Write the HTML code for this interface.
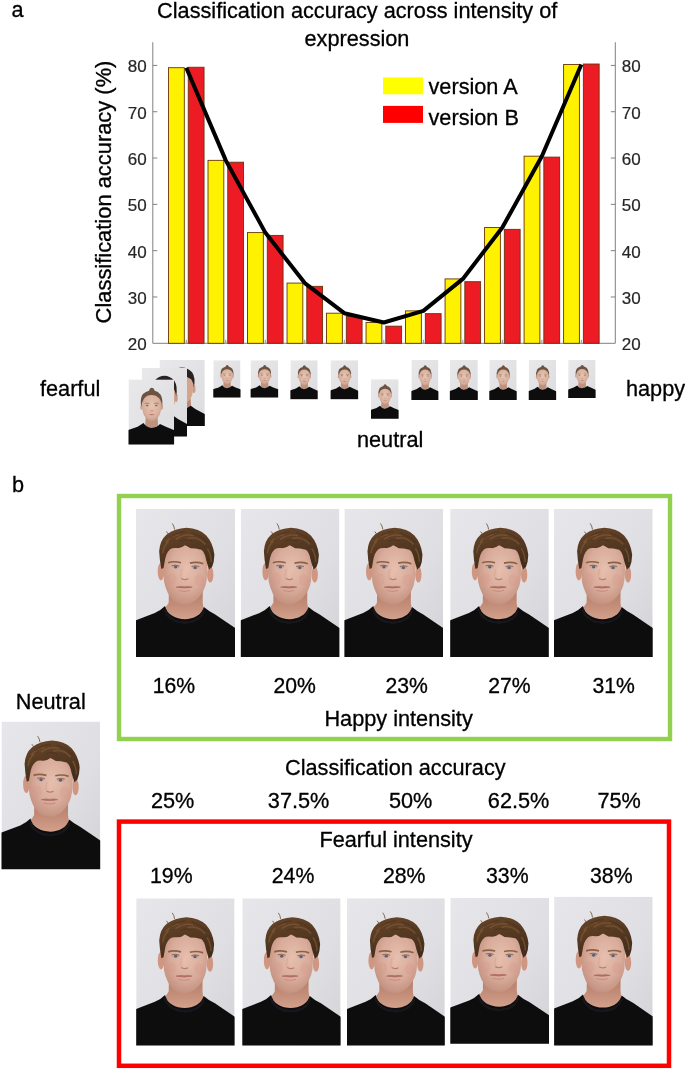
<!DOCTYPE html>
<html lang="en"><head><meta charset="utf-8"><title>Figure</title>
<style>
html,body{margin:0;padding:0;background:#fff}
svg{display:block}
text{font-family:"Liberation Sans",Arial,sans-serif;fill:#000;stroke:#000;stroke-width:0.3px}
.ax{fill:#262626;stroke:#262626;stroke-width:0.2px}
</style></head><body>
<svg width="685" height="1069" viewBox="0 0 685 1069">
<defs>
<linearGradient id="bgm" x1="0" y1="0" x2="1" y2="1"><stop offset="0" stop-color="#e7e7eb"/><stop offset="0.6" stop-color="#dfdfe3"/><stop offset="1" stop-color="#d3d3d7"/></linearGradient>
<linearGradient id="bgf" x1="0" y1="0" x2="1" y2="1"><stop offset="0" stop-color="#e9e9ec"/><stop offset="1" stop-color="#dcdcdf"/></linearGradient>
<radialGradient id="skin" cx="0.54" cy="0.42" r="0.64"><stop offset="0" stop-color="#e6bfae"/><stop offset="0.55" stop-color="#d9ac9b"/><stop offset="1" stop-color="#bf8b79"/></radialGradient>
<radialGradient id="skinf" cx="0.5" cy="0.45" r="0.6"><stop offset="0" stop-color="#e6c4b3"/><stop offset="0.7" stop-color="#d9b09d"/><stop offset="1" stop-color="#c19580"/></radialGradient>
<linearGradient id="hair" x1="0" y1="0" x2="0.3" y2="1"><stop offset="0" stop-color="#684629"/><stop offset="0.5" stop-color="#573a23"/><stop offset="1" stop-color="#432d1c"/></linearGradient>
<linearGradient id="neck" x1="0" y1="0" x2="0" y2="1"><stop offset="0" stop-color="#b27a66"/><stop offset="0.45" stop-color="#c08a75"/><stop offset="1" stop-color="#d6a590"/></linearGradient>
<filter id="soft" x="-5%" y="-5%" width="110%" height="110%"><feGaussianBlur stdDeviation="0.55"/></filter>
<filter id="soft2" x="-5%" y="-5%" width="110%" height="110%"><feGaussianBlur stdDeviation="1.1"/></filter>
<symbol id="pm" viewBox="0 0 100 150" preserveAspectRatio="none">
<rect width="100" height="150" fill="url(#bgm)"/>
<g filter="url(#soft)">
<path d="M33.3 78 L33 95 Q31 98.5 28.8 100.5 Q50 130 68.8 101.5 Q67.6 98.5 67.4 95 L67.4 78Z" fill="url(#neck)"/>
<path d="M-2 113.5 L19 105.5 Q25 103 29.3 98.5 C33 115.5 64 116.5 68.6 99.5 Q73 103.5 80 107 L102 122 V152 H-2Z" fill="#0e0e10"/>
<path d="M29.3 98.5 C33 115.5 64 116.5 68.6 99.5" fill="none" stroke="#17171a" stroke-width="2.4" transform="translate(0 3.4)"/>
<ellipse cx="25.2" cy="63.5" rx="3.3" ry="9" fill="#cf9682"/>
<ellipse cx="75" cy="66.5" rx="3.2" ry="8.4" fill="#cf9682"/>
<path d="M27 58 Q26 36 50 34 Q73 36 72.3 58 L71.3 72.5 Q69.8 84 60.8 92 Q50 100.6 38.2 93.6 Q30.8 86 28.3 73.5Z" fill="url(#skin)"/>
<path d="M25.6 61 Q23.8 52 23.4 43 Q24 32 31 26 Q39 20 51 19.3 Q64 20 71 27 Q78 35 79.2 46.5 Q79 54 76.8 59 L73.8 61.5 Q72 56 70.8 51.5 Q69.5 44 66 41.5 Q60 40 55 40 Q51 37.5 49.5 37 Q46 40 42 39.8 Q37 39 34.5 41 Q31 44 29.6 50 Q28.5 56 27.8 60Z" fill="url(#hair)"/>
<path d="M39 21 Q38.5 17 36.6 14.8 M33 26 L30.8 23" stroke="#6a4a2c" stroke-width="0.8" fill="none"/>
<path d="M30 34 Q36 27 44 26 M40 31 Q48 25 58 27 M52 30 Q62 27 70 36 M27 45 Q28 37 33 33 M72 40 Q76 46 76 54" stroke="#86603a" stroke-width="1.6" fill="none" opacity="0.55"/><path d="M34 30 Q40 24 50 23 M56 24 Q66 27 72 34 M45 33 Q50 30 57 33" stroke="#45301c" stroke-width="1.3" fill="none" opacity="0.5"/><ellipse cx="36" cy="71" rx="5" ry="6" fill="#d88f84" opacity="0.22"/><ellipse cx="64" cy="72" rx="5" ry="6" fill="#d88f84" opacity="0.22"/><path d="M32.5 54.6 Q38 52.6 45.5 54.6" stroke="#8a6248" stroke-width="1.7" fill="none"/>
<path d="M54.5 55 Q61.5 53.2 68 55.6" stroke="#8a6248" stroke-width="1.7" fill="none"/>
<ellipse cx="40" cy="59" rx="3.6" ry="1.5" fill="#c9a79c"/><ellipse cx="60" cy="59.6" rx="3.6" ry="1.5" fill="#c9a79c"/>
<ellipse cx="40.1" cy="59" rx="1.7" ry="1.5" fill="#58627a"/><ellipse cx="59.8" cy="59.6" rx="1.7" ry="1.5" fill="#58627a"/>
<path d="M36 57.6 Q40 56.2 44 58 M56 58.4 Q60 56.8 64 58.4" stroke="#7a5545" stroke-width="0.8" fill="none"/>
<path d="M45.6 70.6 Q49 72.6 52.8 70.8" stroke="#b67f6d" stroke-width="1.2" fill="none"/>
<path d="M46 61 Q44.8 66.5 45 69.6" stroke="#d1947f" stroke-width="1.5" fill="none" opacity="0.3"/><ellipse cx="49.5" cy="66" rx="2.2" ry="5" fill="#edc0ad" opacity="0.35"/>
<path d="M40.5 79.3 Q45 78 48.8 79 Q53 78 56.8 79.3 Q49 81.2 40.5 79.3Z" fill="#b8736a" stroke="#a96158" stroke-width="0.6"/>
<path d="M43 82.5 Q49 84.5 54.5 82.5" stroke="#c98e7c" stroke-width="1.2" fill="none"/>
</g>
</symbol>
<symbol id="pd" viewBox="0 0 100 150" preserveAspectRatio="none">
<rect width="100" height="150" fill="url(#bgf)"/>
<g filter="url(#soft2)">
<path d="M32 80 L30 108 Q50 122 70 108 L68 80Z" fill="#b98a74"/>
<path d="M-2 122 L22 112 L31 104 Q50 120 69 104 L80 112 L102 124 V152 H-2Z" fill="#0e0e10"/>
<ellipse cx="24" cy="66" rx="3.5" ry="9" fill="#c99b86"/><ellipse cx="76" cy="66" rx="3.5" ry="9" fill="#c99b86"/>
<path d="M26 58 Q25 34 50 32 Q75 34 74 58 L73 76 Q70 90 60 97 Q50 103 40 97 Q30 90 27 76Z" fill="#d3a48e"/>
<path d="M24 62 Q20 40 28 28 Q38 17 50 17 Q62 17 72 28 Q80 40 76 62 Q74 50 70 44 Q60 36 50 36 Q40 36 30 44 Q26 50 24 62Z" fill="#2a2320"/>
</g>
</symbol>
<symbol id="pf" viewBox="0 0 100 150" preserveAspectRatio="none">
<rect width="100" height="150" fill="url(#bgf)"/>
<g filter="url(#soft2)">
<path d="M38 84 L36.5 106 Q50 118 65 106 L63.5 84Z" fill="#bf927d"/>
<path d="M-2 117 L20 109 L33 100.5 Q38 110 50 112 Q63 110 69 102.5 L82 109 L102 118 V152 H-2Z" fill="#0e0e10"/>
<ellipse cx="28.5" cy="64" rx="2.6" ry="6.5" fill="#cfa08c"/><ellipse cx="73" cy="64" rx="2.6" ry="6.5" fill="#cfa08c"/>
<path d="M30 60 Q29 35 51 33 Q73 35 72 60 L71 72 Q68 86 59 93 Q51 98.5 43 93 Q33.5 86 31 72Z" fill="url(#skinf)"/>
<path d="M27.8 63 Q25 45 31 34.5 Q38 27 45 26 Q46 20 51 19.5 Q56 20 57.5 26 Q65 27.5 70.5 35.5 Q76 46 73.8 63 Q72.5 51 68 44 Q60 35.5 51 36 Q41 35.5 34 44 Q30 51 27.8 63Z" fill="#6c533f"/>
<path d="M35.5 55.5 Q40 53.8 46 55.6 M56 55.6 Q62 53.8 66.5 55.5" stroke="#8b6a55" stroke-width="1.6" fill="none"/>
<ellipse cx="41" cy="60" rx="3" ry="1.7" fill="#6b6a72"/><ellipse cx="61" cy="60" rx="3" ry="1.7" fill="#6b6a72"/>
<path d="M47.5 72 Q51 73.5 54.5 72" stroke="#ad7b6a" stroke-width="1.4" fill="none"/>
<path d="M44 81 Q51 79.5 58 81 Q51 84 44 81Z" fill="#b4665f"/>
</g>
</symbol>
</defs>

<rect width="685" height="1069" fill="#fff"/>
<path d="M152.8 42.24V343.3H615.3V42.24" fill="none" stroke="#808080" stroke-width="1"/>
<path d="M152.8 296.98h4.5M615.3 296.98h-4.5M152.8 250.67h4.5M615.3 250.67h-4.5M152.8 204.35h4.5M615.3 204.35h-4.5M152.8 158.03h4.5M615.3 158.03h-4.5M152.8 111.72h4.5M615.3 111.72h-4.5M152.8 65.40h4.5M615.3 65.40h-4.5" fill="none" stroke="#808080" stroke-width="1"/>
<path d="M186.28 343.3v-3.5M225.78 343.3v-3.5M265.29 343.3v-3.5M304.80 343.3v-3.5M344.31 343.3v-3.5M383.82 343.3v-3.5M423.33 343.3v-3.5M462.84 343.3v-3.5M502.35 343.3v-3.5M541.86 343.3v-3.5M581.37 343.3v-3.5" fill="none" stroke="#808080" stroke-width="0.9"/>
<g stroke="#6a3208" stroke-width="0.9">
<rect x="168.50" y="67.71" width="15.8" height="275.59" fill="#fff200"/>
<rect x="188.25" y="67.25" width="15.8" height="276.05" fill="#ed1c24"/>
<rect x="208.01" y="160.35" width="15.8" height="182.95" fill="#fff200"/>
<rect x="227.76" y="162.20" width="15.8" height="181.10" fill="#ed1c24"/>
<rect x="247.52" y="232.60" width="15.8" height="110.70" fill="#fff200"/>
<rect x="267.27" y="235.38" width="15.8" height="107.92" fill="#ed1c24"/>
<rect x="287.03" y="283.09" width="15.8" height="60.21" fill="#fff200"/>
<rect x="306.78" y="286.33" width="15.8" height="56.97" fill="#ed1c24"/>
<rect x="326.54" y="313.19" width="15.8" height="30.11" fill="#fff200"/>
<rect x="346.29" y="316.44" width="15.8" height="26.86" fill="#ed1c24"/>
<rect x="366.05" y="322.46" width="15.8" height="20.84" fill="#fff200"/>
<rect x="385.80" y="326.16" width="15.8" height="17.14" fill="#ed1c24"/>
<rect x="405.56" y="310.88" width="15.8" height="32.42" fill="#fff200"/>
<rect x="425.31" y="313.66" width="15.8" height="29.64" fill="#ed1c24"/>
<rect x="445.07" y="278.92" width="15.8" height="64.38" fill="#fff200"/>
<rect x="464.82" y="281.70" width="15.8" height="61.60" fill="#ed1c24"/>
<rect x="484.58" y="227.51" width="15.8" height="115.79" fill="#fff200"/>
<rect x="504.33" y="229.36" width="15.8" height="113.94" fill="#ed1c24"/>
<rect x="524.09" y="156.18" width="15.8" height="187.12" fill="#fff200"/>
<rect x="543.84" y="157.11" width="15.8" height="186.19" fill="#ed1c24"/>
<rect x="563.60" y="64.47" width="15.8" height="278.83" fill="#fff200"/>
<rect x="583.35" y="64.01" width="15.8" height="279.29" fill="#ed1c24"/>
</g>
<text class="ax" x="146.6" y="350.20" font-size="17" text-anchor="end">20</text>
<text class="ax" x="621.8" y="350.20" font-size="17">20</text>
<text class="ax" x="146.6" y="303.88" font-size="17" text-anchor="end">30</text>
<text class="ax" x="621.8" y="303.88" font-size="17">30</text>
<text class="ax" x="146.6" y="257.57" font-size="17" text-anchor="end">40</text>
<text class="ax" x="621.8" y="257.57" font-size="17">40</text>
<text class="ax" x="146.6" y="211.25" font-size="17" text-anchor="end">50</text>
<text class="ax" x="621.8" y="211.25" font-size="17">50</text>
<text class="ax" x="146.6" y="164.93" font-size="17" text-anchor="end">60</text>
<text class="ax" x="621.8" y="164.93" font-size="17">60</text>
<text class="ax" x="146.6" y="118.62" font-size="17" text-anchor="end">70</text>
<text class="ax" x="621.8" y="118.62" font-size="17">70</text>
<text class="ax" x="146.6" y="72.30" font-size="17" text-anchor="end">80</text>
<text class="ax" x="621.8" y="72.30" font-size="17">80</text>
<polyline points="186.28,67.71 225.78,160.35 265.29,232.60 304.80,283.09 344.31,313.19 383.82,322.46 423.33,310.88 462.84,278.92 502.35,227.51 541.86,156.18 581.37,64.47" fill="none" stroke="#000" stroke-width="4" stroke-linejoin="round"/>
<text x="357.2" y="17.5" font-size="21.7" text-anchor="middle">Classification accuracy across intensity of</text>
<text x="357" y="45.9" font-size="21.7" text-anchor="middle">expression</text>
<text x="11.6" y="17.2" font-size="21.7">a</text>
<text x="12" y="492" font-size="21.7">b</text>
<text transform="translate(110.9 192) rotate(-90)" font-size="21.9" text-anchor="middle">Classification accuracy (%)</text>
<rect x="383" y="77.3" width="40" height="17" fill="#ffff00"/>
<rect x="383" y="105.9" width="40" height="17" fill="#ff0000"/>
<text x="428.5" y="94.1" font-size="21.7">version A</text>
<text x="428.5" y="124.6" font-size="21.7">version B</text>
<text x="40" y="396" font-size="21.7">fearful</text>
<text x="626" y="396" font-size="21.7">happy</text>
<text x="357" y="446.8" font-size="21.7">neutral</text>
<use href="#pd" x="159.5" y="359.9" width="45.3" height="66"/>
<use href="#pd" x="141.8" y="368" width="45.2" height="68.4"/>
<use href="#pf" x="128.5" y="379.4" width="45.6" height="65.1"/>
<use href="#pf" x="213.3" y="360.2" width="27.19999999999999" height="37.400000000000034"/>
<use href="#pf" x="250.6" y="360.2" width="27.599999999999994" height="37.400000000000034"/>
<use href="#pf" x="290.4" y="360.2" width="27.30000000000001" height="39.0"/>
<use href="#pf" x="330.6" y="360.2" width="27.599999999999966" height="39.0"/>
<use href="#pf" x="371" y="379.2" width="27.600000000000023" height="39.60000000000002"/>
<use href="#pf" x="411.4" y="360" width="27.0" height="40"/>
<use href="#pf" x="449.8" y="360" width="28.0" height="40"/>
<use href="#pf" x="489.3" y="360" width="27.400000000000034" height="40"/>
<use href="#pf" x="528.7" y="360" width="27.5" height="40"/>
<use href="#pf" x="568.2" y="360" width="27.399999999999977" height="38"/>
<rect x="119" y="496" width="551" height="243" fill="none" stroke="#92d050" stroke-width="4.4"/>
<rect x="119" y="821.6" width="550" height="244.2" fill="none" stroke="#ff0000" stroke-width="4.5"/>
<use href="#pm" x="136" y="508.8" width="99" height="148.2"/>
<use href="#pm" x="240.8" y="508.8" width="98.59999999999997" height="148.2"/>
<use href="#pm" x="344.4" y="508.8" width="98.60000000000002" height="148.2"/>
<use href="#pm" x="450.2" y="508.8" width="98.59999999999997" height="148.2"/>
<use href="#pm" x="554" y="508.8" width="98.70000000000005" height="148.2"/>
<use href="#pm" x="136.2" y="898.3" width="98.4" height="147.20000000000005"/>
<use href="#pm" x="242.3" y="898.3" width="98.30000000000001" height="147.20000000000005"/>
<use href="#pm" x="347" y="898.2" width="97.80000000000001" height="147.29999999999995"/>
<use href="#pm" x="450.3" y="898" width="98.69999999999999" height="145.79999999999995"/>
<use href="#pm" x="554.1" y="896.7" width="98.60000000000002" height="148.79999999999995"/>
<use href="#pm" x="1.5" y="721.6" width="98.7" height="147.7"/>
<text x="50.8" y="709" font-size="21.7" text-anchor="middle">Neutral</text>
<text x="174" y="692.6" font-size="21.2" text-anchor="middle">16%</text>
<text x="294.6" y="692.6" font-size="21.2" text-anchor="middle">20%</text>
<text x="406.7" y="692.6" font-size="21.2" text-anchor="middle">23%</text>
<text x="509.4" y="692.6" font-size="21.2" text-anchor="middle">27%</text>
<text x="613.6" y="692.6" font-size="21.2" text-anchor="middle">31%</text>
<text x="398.6" y="725.8" font-size="21.7" text-anchor="middle">Happy intensity</text>
<text x="395.3" y="774.9" font-size="21.7" text-anchor="middle">Classification accuracy</text>
<text x="172.7" y="807.8" font-size="21.7" text-anchor="middle">25%</text>
<text x="298.6" y="807.8" font-size="21.7" text-anchor="middle">37.5%</text>
<text x="410.6" y="807.8" font-size="21.7" text-anchor="middle">50%</text>
<text x="518.6" y="807.8" font-size="21.7" text-anchor="middle">62.5%</text>
<text x="619.1" y="807.8" font-size="21.7" text-anchor="middle">75%</text>
<text x="396" y="847.4" font-size="21.7" text-anchor="middle">Fearful intensity</text>
<text x="171.3" y="882.9" font-size="21.3" text-anchor="middle">19%</text>
<text x="293" y="882.9" font-size="21.3" text-anchor="middle">24%</text>
<text x="404.2" y="882.9" font-size="21.3" text-anchor="middle">28%</text>
<text x="507.3" y="882.9" font-size="21.3" text-anchor="middle">33%</text>
<text x="611.3" y="882.9" font-size="21.3" text-anchor="middle">38%</text>
</svg></body></html>
